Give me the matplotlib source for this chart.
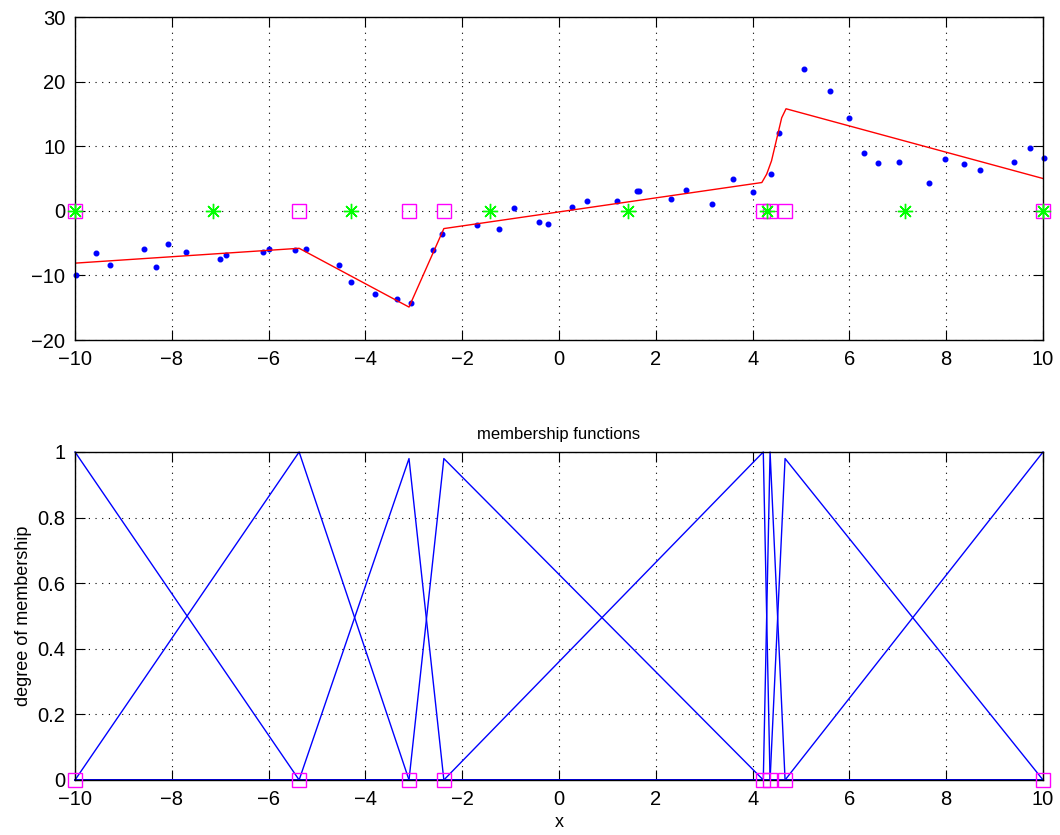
import numpy as np
import matplotlib
matplotlib.use('Agg')
import matplotlib.pyplot as plt

plt.rcParams['font.family'] = ['Liberation Sans', 'DejaVu Sans']

# training samples (blue dots)
data_x = [-9.98, -9.57, -9.27, -8.57, -8.32, -8.07, -7.71, -7.01, -6.88, -6.12,
          -5.99, -5.45, -5.22, -4.55, -4.30, -3.80, -3.34, -3.06, -2.61, -2.42,
          -1.70, -1.25, -0.94, -0.41, -0.23, 0.27, 0.58, 1.20, 1.62, 1.66,
          2.31, 2.62, 3.16, 3.59, 4.01, 4.37, 4.55, 5.07, 5.59, 6.00,
          6.30, 6.60, 7.03, 7.65, 7.98, 8.36, 8.70, 9.39, 9.74, 10.01]
data_y = [-9.9, -6.5, -8.4, -5.9, -8.7, -5.2, -6.45, -7.5, -6.8, -6.4,
          -5.9, -6.0, -5.9, -8.36, -11.0, -12.8, -13.6, -14.3, -6.1, -3.6,
          -2.2, -2.8, 0.4, -1.8, -2.0, 0.57, 1.5, 1.5, 3.0, 3.0,
          1.8, 3.25, 1.08, 4.85, 2.94, 5.7, 12.0, 21.9, 18.5, 14.4,
          9.0, 7.4, 7.6, 4.33, 7.95, 7.2, 6.35, 7.6, 9.7, 8.2]

# model output (red)
model_x = [-10, -5.37, -3.1, -2.38, 4.19, 4.29, 4.39, 4.60, 4.69, 10]
model_y = [-8.1, -5.8, -14.9, -2.75, 4.38, 5.68, 7.74, 14.4, 15.8, 5.0]

# initial centers (green) and final centers (magenta)
init_centers = [-10, -7.14, -4.29, -1.43, 1.43, 4.29, 7.14, 10]
centers = [-10, -5.37, -3.1, -2.38, 4.22, 4.36, 4.67, 10]
peaks = [1.0, 1.0, 0.98, 0.98, 1.0, 1.0, 0.98, 1.0]


def matlab_axes(ax):
    ax.grid(True, linestyle=(0, (1, 5)), color='black', linewidth=0.8)
    ax.tick_params(direction='in', length=7, top=True, right=True, labelsize=14.5,
                   width=0.8, pad=7)
    for s in ax.spines.values():
        s.set_linewidth(1.0)


fig = plt.figure(figsize=(10.6, 8.35), dpi=100)
ax1 = fig.add_axes([0.0708, 0.5928, 0.9132, 0.3868])
ax2 = fig.add_axes([0.0708, 0.0659, 0.9132, 0.3928])

ax1.plot(data_x, data_y, 'o', color='blue', ms=3.3, mec='blue', clip_on=False)
ax1.plot(model_x, model_y, '-', color='red', lw=1.0)
zeros = np.zeros(len(centers))
ax1.plot(centers, zeros, 's', ms=9.5, mfc='none', mec='magenta', mew=1.0,
         clip_on=False, zorder=3)
ax1.plot(init_centers, zeros, marker=(8, 2, 0), ls='none', ms=11,
         color='lime', mew=1.0, clip_on=False, zorder=4)
ax1.set_xlim(-10, 10)
ax1.set_ylim(-20, 30)
ax1.set_xticks(range(-10, 11, 2))
ax1.set_yticks(range(-20, 31, 10))
matlab_axes(ax1)

n = len(centers)
for i in range(n):
    xs, ys = [], []
    if i > 0:
        xs += [-10, centers[i - 1]]
        ys += [0, 0]
    xs.append(centers[i])
    ys.append(peaks[i])
    if i < n - 1:
        xs += [centers[i + 1], 10]
        ys += [0, 0]
    ax2.plot(xs, ys, '-', color='blue', lw=1.0, clip_on=False)
ax2.plot(centers, zeros, 's', ms=9.5, mfc='none', mec='magenta', mew=1.0,
         clip_on=False, zorder=3)
ax2.set_xlim(-10, 10)
ax2.set_ylim(0, 1)
ax2.set_xticks(range(-10, 11, 2))
ax2.set_yticks([0, 0.2, 0.4, 0.6, 0.8, 1])
ax2.set_yticklabels(['0', '0.2', '0.4', '0.6', '0.8', '1'])
matlab_axes(ax2)
ax2.set_title('membership functions', fontsize=12, pad=9)
ax2.set_ylabel('degree of membership', fontsize=13, labelpad=4)
ax2.set_xlabel('x', fontsize=13, labelpad=4)

fig.savefig('out.png', dpi=100)
